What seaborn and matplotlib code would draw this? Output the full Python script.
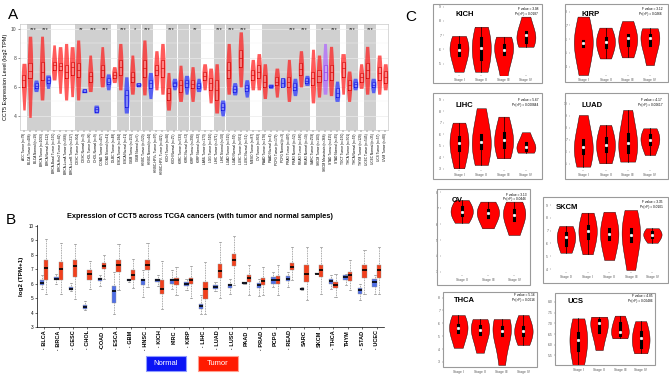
import numpy as np
import pandas as pd
import matplotlib
matplotlib.use('Agg')
import matplotlib.pyplot as plt
import matplotlib.patches as mpatches
import seaborn as sns

plt.rcParams['font.family'] = ['Liberation Sans', 'DejaVu Sans']

W, H = 669, 376

# ---------------- Panel A data (TIMER) ----------------
a_labels = [
    'ACC Tumor (n=79)', 'BLCA Tumor (n=408)', 'BLCA Normal (n=19)', 'BRCA Tumor (n=1093)',
    'BRCA Normal (n=112)', 'BRCA-Basal Tumor (n=190)', 'BRCA-Her2 Tumor (n=82)',
    'BRCA-LumA Tumor (n=568)', 'BRCA-LumB Tumor (n=217)', 'CESC Tumor (n=304)',
    'CESC Normal (n=3)', 'CHOL Tumor (n=36)', 'CHOL Normal (n=9)', 'COAD Tumor (n=457)',
    'COAD Normal (n=41)', 'DLBC Tumor (n=48)', 'ESCA Tumor (n=184)', 'ESCA Normal (n=11)',
    'GBM Tumor (n=153)', 'GBM Normal (n=5)', 'HNSC Tumor (n=520)', 'HNSC Normal (n=44)',
    'HNSC-HPV+ Tumor (n=97)', 'HNSC-HPV- Tumor (n=421)', 'KICH Tumor (n=66)',
    'KICH Normal (n=25)', 'KIRC Tumor (n=533)', 'KIRC Normal (n=72)', 'KIRP Tumor (n=290)',
    'KIRP Normal (n=32)', 'LAML Tumor (n=173)', 'LGG Tumor (n=516)', 'LIHC Tumor (n=371)',
    'LIHC Normal (n=50)', 'LUAD Tumor (n=515)', 'LUAD Normal (n=59)', 'LUSC Tumor (n=501)',
    'LUSC Normal (n=51)', 'MESO Tumor (n=87)', 'OV Tumor (n=303)', 'PAAD Tumor (n=178)',
    'PAAD Normal (n=4)', 'PCPG Tumor (n=179)', 'PCPG Normal (n=3)', 'PRAD Tumor (n=497)',
    'PRAD Normal (n=52)', 'READ Tumor (n=166)', 'READ Normal (n=10)', 'SARC Tumor (n=259)',
    'SKCM Tumor (n=103)', 'SKCM Metastasis (n=368)', 'STAD Tumor (n=415)',
    'STAD Normal (n=35)', 'TGCT Tumor (n=150)', 'THCA Tumor (n=501)', 'THCA Normal (n=59)',
    'THYM Tumor (n=120)', 'UCEC Tumor (n=545)', 'UCEC Normal (n=35)', 'UCS Tumor (n=57)',
    'UVM Tumor (n=80)']
a_lo = [4.41, 3.9, 5.68, 5.1, 5.9, 6.48, 5.56, 5.1, 5.33, 5.1, 5.6, 5.68, 4.2, 6.0, 5.8, 6.3,
        5.8, 4.2, 5.5, 6.0, 5.45, 5.2, 5.8, 5.5, 4.4, 5.8, 5.0, 5.5, 5.0, 5.68, 5.8, 4.9, 4.2,
        4.0, 5.5, 5.45, 6.0, 5.3, 5.8, 5.8, 5.2, 5.9, 5.3, 6.0, 5.0, 5.4, 6.0, 6.1, 4.9, 5.3,
        5.5, 5.4, 5.0, 5.5, 5.0, 5.8, 5.9, 5.5, 5.6, 5.5, 5.8]
a_q1 = [5.98, 6.6, 5.9, 6.48, 6.25, 7.17, 7.17, 6.6, 6.83, 6.71, 5.62, 6.37, 4.3, 6.71, 6.2,
        6.6, 6.83, 4.64, 6.37, 6.07, 6.71, 5.9, 6.83, 6.71, 5.1, 6.07, 5.68, 6.02, 5.9, 5.9,
        6.48, 5.8, 5.1, 4.41, 6.6, 5.68, 7.4, 5.75, 6.48, 6.6, 6.02, 5.98, 6.14, 6.02, 6.02,
        5.8, 6.83, 6.25, 6.14, 6.37, 6.48, 6.48, 5.33, 6.71, 5.8, 6.02, 6.37, 6.6, 5.98, 6.48,
        6.3]
a_med = [6.48, 7.13, 6.07, 7.06, 6.48, 7.52, 7.45, 7.06, 7.4, 7.17, 5.68, 6.76, 4.46, 7.17,
         6.37, 6.83, 7.4, 5.45, 6.67, 6.16, 7.29, 6.25, 7.17, 7.29, 5.56, 6.25, 6.14, 6.25,
         6.18, 6.07, 6.76, 6.25, 5.8, 4.6, 7.17, 5.84, 7.98, 5.95, 6.83, 7.06, 6.37, 6.07, 6.37,
         6.25, 6.37, 5.98, 7.22, 6.44, 6.6, 6.76, 7.06, 7.06, 5.56, 7.29, 6.14, 6.2, 6.67, 7.17,
         6.14, 6.94, 6.7]
a_q3 = [6.83, 7.63, 6.25, 7.75, 6.67, 7.75, 7.63, 7.52, 7.75, 7.63, 5.84, 7.06, 4.64, 7.52,
        6.6, 7.06, 7.86, 5.8, 7.06, 6.25, 7.86, 6.48, 7.52, 7.86, 5.91, 6.37, 6.48, 6.48, 6.48,
        6.25, 7.06, 6.6, 6.48, 4.87, 7.75, 6.07, 8.55, 6.14, 7.17, 7.52, 6.83, 6.14, 6.71, 6.6,
        6.71, 6.25, 7.63, 6.6, 7.06, 7.17, 7.52, 7.52, 5.91, 7.75, 6.48, 6.37, 6.94, 7.63, 6.37,
        7.4, 7.1]
a_hi = [7.63, 9.5, 6.48, 9.5, 6.83, 8.9, 8.78, 9.0, 8.78, 9.24, 5.9, 8.2, 4.75, 8.78, 6.9,
        7.4, 9.0, 6.7, 8.2, 6.3, 9.24, 7.0, 8.5, 9.0, 7.0, 6.6, 7.5, 6.8, 7.4, 6.6, 7.6, 7.3,
        7.6, 5.1, 9.0, 6.3, 9.8, 6.5, 7.9, 8.3, 7.6, 6.2, 7.3, 6.62, 7.9, 6.6, 8.5, 6.8, 8.6,
        8.2, 9.0, 8.8, 6.4, 8.3, 7.1, 6.6, 7.6, 8.8, 6.6, 8.2, 7.6]
a_sig = {'BLCA': '***', 'BRCA': '***', 'CESC': '**', 'CHOL': '***', 'COAD': '***',
         'ESCA': '***', 'GBM': '*', 'HNSC': '***', 'KICH': '***', 'KIRP': '**',
         'LIHC': '***', 'LUAD': '***', 'LUSC': '***', 'PRAD': '***', 'READ': '***',
         'SKCM': '*', 'STAD': '***', 'THCA': '***', 'UCEC': '***'}

# ---------------- Panel B data (GEPIA boxplots) ----------------
b_labels = ['· BLCA', '· BRCA', '· CESC', '· CHOL', '·COAD', '· ESCA', '· GBM', '· HNSC',
            '· KICH', 'KIRC', '· KIRP', '· LIHC', '· LUAD', '· LUSC', 'PAAD', '· PRAD',
            'PCPG', '· READ', 'SARC', 'SKCM', '· THCA', 'THYM', '· STAD', '· UCEC']
b_norm_lo = [5.66, 6.0, 5.5, 4.16, 5.82, 3.93, 6.12, 5.08, 5.82, 5.66, 5.54, 3.88, 5.5, 5.31,
             5.96, 5.13, 5.77, 5.77, 5.54, 6.65, 5.66, 5.89, 4.85, 5.31]
b_norm_q1 = [5.94, 6.24, 5.54, 4.27, 6.19, 4.67, 6.17, 5.89, 6.12, 6.0, 5.82, 4.27, 5.66, 5.73,
             6.0, 5.73, 6.0, 6.17, 5.59, 6.67, 6.0, 6.28, 5.27, 5.77]
b_norm_med = [6.07, 6.35, 5.66, 4.39, 6.3, 5.47, 6.24, 6.28, 6.24, 6.24, 5.96, 4.46, 5.77, 5.89,
              6.07, 5.89, 6.28, 6.35, 5.66, 6.7, 6.19, 6.47, 5.54, 6.12]
b_norm_q3 = [6.24, 6.47, 5.77, 4.5, 6.42, 5.84, 6.3, 6.35, 6.33, 6.35, 6.12, 4.62, 5.89, 6.0,
             6.12, 6.07, 6.47, 6.51, 5.73, 6.72, 6.35, 6.58, 5.73, 6.35]
b_norm_hi = [6.58, 6.65, 6.05, 4.8, 6.58, 6.81, 6.35, 6.93, 6.58, 6.93, 6.35, 5.2, 6.12, 6.35,
             6.14, 6.35, 6.81, 6.81, 5.77, 6.74, 6.58, 6.7, 6.0, 6.58]
b_tum_lo = [5.31, 5.31, 4.97, 5.66, 6.35, 5.54, 5.73, 5.77, 4.27, 5.2, 5.03, 3.88, 5.03, 5.89,
            5.2, 5.2, 5.2, 6.24, 4.9, 5.31, 5.08, 5.54, 5.31, 5.31]
b_tum_q1 = [6.28, 6.24, 6.47, 6.28, 7.04, 6.81, 6.28, 6.97, 5.27, 5.94, 5.96, 4.97, 6.42, 7.2,
            6.12, 5.94, 6.0, 6.93, 6.12, 6.47, 5.73, 6.19, 6.42, 6.42]
b_tum_med = [7.11, 7.04, 7.2, 6.65, 7.2, 7.27, 6.58, 7.27, 5.66, 6.24, 6.24, 5.66, 6.88, 7.62,
             6.4, 6.19, 6.28, 7.16, 6.7, 6.93, 5.93, 6.58, 6.93, 6.93]
b_tum_q3 = [7.62, 7.51, 7.62, 6.93, 7.44, 7.67, 6.97, 7.67, 6.24, 6.4, 6.42, 6.12, 7.39, 8.08,
            6.63, 6.42, 6.51, 7.44, 7.27, 7.27, 6.12, 6.81, 7.27, 7.27]
b_tum_hi = [9.12, 8.85, 8.78, 7.55, 7.97, 8.73, 7.74, 8.85, 7.58, 7.16, 7.2, 7.51, 8.89, 9.28,
            7.27, 7.16, 7.27, 8.55, 8.55, 8.55, 6.7, 7.62, 8.31, 8.55]

# ---------------- Panel C data (stage violins) ----------------
stages4 = ['Stage I', 'Stage II', 'Stage III', 'Stage IV']
kich_vals = [[4.42, 5.6, 5.95, 6.3, 6.94], [4.42, 5.3, 6.07, 6.77, 7.59],
             [4.12, 5.7, 5.95, 6.3, 6.89], [6.18, 6.53, 7.0, 7.23, 8.3]]
kirp_vals = [[3.4, 5.5, 5.7, 5.9, 7.64], [4.6, 5.4, 5.82, 6.1, 6.84],
             [4.68, 5.6, 6.06, 6.28, 7.32], [4.12, 5.55, 6.06, 6.3, 6.79]]
lihc_vals = [[3.06, 4.65, 5.23, 5.81, 7.03], [3.35, 4.8, 5.37, 5.96, 8.28],
             [3.93, 4.94, 5.52, 6.1, 7.55], [4.42, 4.65, 4.94, 5.23, 6.19]]
luad_vals = [[4.78, 5.9, 6.44, 7.0, 9.08], [5.06, 6.05, 6.58, 7.14, 8.25],
             [5.2, 6.0, 6.78, 7.5, 9.5], [5.75, 6.67, 7.0, 7.4, 7.97]]
ov_stages = ['Stage II', 'Stage III', 'Stage IV']
ov_vals = [[6.09, 6.58, 6.79, 7.06, 7.52], [5.74, 6.48, 6.69, 6.9, 7.42],
           [5.32, 6.27, 6.58, 6.9, 7.42]]
skcm_stages = ['Stage 0', 'Stage I', 'Stage II', 'Stage III', 'Stage IV']
skcm_vals = [[5.28, 5.92, 6.53, 6.83, 7.37], [5.16, 6.4, 6.98, 7.35, 8.41],
             [4.71, 6.33, 6.72, 7.11, 8.48], [3.93, 6.2, 6.66, 7.16, 8.62],
             [6.06, 6.5, 6.66, 6.9, 7.19]]
thca_vals = [[4.1, 5.3, 5.61, 5.87, 6.64], [3.72, 5.14, 5.48, 5.81, 6.33],
             [2.77, 5.1, 5.4, 5.74, 6.33], [4.32, 5.1, 5.4, 5.74, 6.64]]
ucs_vals = [[4.9, 5.75, 6.22, 6.53, 7.23], [5.75, 6.61, 7.0, 7.15, 7.31],
            [6.3, 6.46, 6.61, 7.0, 7.36], [5.6, 5.9, 6.3, 6.6, 7.1]]
c_fvalues = {'KICH': ('3.08', '0.0187'), 'KIRP': ('3.12', '0.0266'), 'LIHC': ('5.67', '0.000844'),
             'LUAD': ('4.17', '0.00617'), 'OV': ('3.13', '0.0446'), 'SKCM': ('3.35', '0.0101'),
             'THCA': ('5.16', '0.0016'), 'UCS': ('4.85', '0.00486')}


def rect(l, t, r, b):
    return [l / W, 1 - b / H, (r - l) / W, (b - t) / H]


fig = plt.figure(figsize=(W / 100, H / 100), dpi=100)

# ================= Panel A =================
a_rows = []
for lab, lo, q1, med, q3, hi in zip(a_labels, a_lo, a_q1, a_med, a_q3, a_hi):
    for v in (lo, q1, med, q3, hi):
        a_rows.append({'group': lab, 'value': v})
a_df = pd.DataFrame(a_rows)
a_kind = [lab.split(' ')[1] for lab in a_labels]
a_cancer = [lab.split(' ')[0] for lab in a_labels]
cloud_col = {'Tumor': '#ff1c1c', 'Normal': '#2a36ff', 'Metastasis': '#b066ff'}
box_col = {'Tumor': '#d40000', 'Normal': '#1414e0', 'Metastasis': '#8c3ce8'}

axA = fig.add_axes(rect(20, 24, 388, 130))
for c in dict.fromkeys(a_cancer):
    idx = [i for i, cc in enumerate(a_cancer) if cc == c]
    if len(idx) > 1:
        axA.axvspan(min(idx) - 0.47, max(idx) + 0.47, color='#d0d0d0', lw=0, zorder=0)
for y in [4, 6, 8, 10]:
    axA.axhline(y, color='#ebebeb', lw=0.5, zorder=0.5)
for y in [5, 7, 9]:
    axA.axhline(y, color='#f2f2f2', lw=0.3, zorder=0.5)

sns.violinplot(data=a_df, x='group', y='value', hue='group', order=a_labels,
               hue_order=a_labels, palette={l: cloud_col[k] for l, k in zip(a_labels, a_kind)},
               legend=False, cut=0, inner=None, density_norm='width', width=0.9,
               bw_adjust=1.2, linewidth=0, alpha=0.72, saturation=1, ax=axA)
sns.boxplot(data=a_df, x='group', y='value', order=a_labels, color='white', width=0.5,
            whis=0, showfliers=False, showcaps=False, linewidth=0,
            boxprops=dict(alpha=0.25), ax=axA)
sns.boxplot(data=a_df, x='group', y='value', hue='group', order=a_labels, hue_order=a_labels,
            palette={l: box_col[k] for l, k in zip(a_labels, a_kind)}, legend=False,
            fill=False, width=0.5, whis=0, showfliers=False, showcaps=False,
            linewidth=0.45, ax=axA)
for c, s in a_sig.items():
    idx = [i for i, cc in enumerate(a_cancer) if cc == c]
    axA.text(np.mean(idx), 9.93, s, ha='center', va='center', fontsize=4.2, color='#222222')

axA.set_xlim(-0.66, 60.46)
axA.set_ylim(3.03, 10.34)
axA.set_yticks([4, 6, 8, 10])
axA.set_xlabel('')
axA.set_ylabel('CCT5 Expression Level (log2 TPM)', fontsize=4, labelpad=2)
axA.tick_params(axis='y', labelsize=3.6, length=1.5, width=0.4, pad=1, colors='#444444')
axA.tick_params(axis='x', labelsize=2.3, length=1.2, width=0.3, pad=1, labelrotation=90)
for sp in axA.spines.values():
    sp.set_color('#bbbbbb')
    sp.set_linewidth(0.4)

# ================= Panel B =================
b_rows = []
for i, c in enumerate(b_labels):
    for v in (b_norm_lo[i], b_norm_q1[i], b_norm_med[i], b_norm_q3[i], b_norm_hi[i]):
        b_rows.append({'cancer': c, 'type': 'Normal', 'value': v})
    for v in (b_tum_lo[i], b_tum_q1[i], b_tum_med[i], b_tum_q3[i], b_tum_hi[i]):
        b_rows.append({'cancer': c, 'type': 'Tumor', 'value': v})
b_df = pd.DataFrame(b_rows)

axB = fig.add_axes(rect(37, 225, 384, 327))
sns.boxplot(data=b_df, x='cancer', y='value', hue='type', order=b_labels,
            hue_order=['Normal', 'Tumor'], palette={'Normal': '#4f6fe6', 'Tumor': '#f2401c'},
            whis=(0, 100), width=0.6, gap=0, showfliers=False, linewidth=0.3,
            linecolor='#999999', saturation=1,
            medianprops=dict(color='black', linewidth=1.2),
            whiskerprops=dict(color='#8c8c8c', linestyle=(0, (1, 1)), linewidth=0.6),
            capprops=dict(color='#8c8c8c', linewidth=0.5),
            legend=False, ax=axB)
axB.set_xlim(-0.49, 23.5)
axB.set_ylim(3, 10.07)
axB.set_yticks(range(3, 11))
axB.set_xlabel('')
axB.set_ylabel('log2 (TPM+1)', fontsize=4.5, fontweight='bold', labelpad=3)
axB.tick_params(axis='y', labelsize=3.3, length=1.5, width=0.4, pad=1)
axB.tick_params(axis='x', labelsize=4, length=1.5, width=0.4, pad=1, labelrotation=90)
for t in axB.get_xticklabels():
    t.set_fontweight('bold')
axB.spines['top'].set_visible(False)
axB.spines['right'].set_visible(False)
for sp in ('left', 'bottom'):
    axB.spines[sp].set_linewidth(0.5)
fig.text(200 / W, 1 - 217 / H,
         'Expression of CCT5 across TCGA cancers (with tumor and normal samples)',
         ha='center', va='center', fontsize=5.3, fontweight='bold')

for (l, t, r, b), lab, fc, ec in [((146, 356, 186, 371), 'Normal', '#0a14f5', '#8f9bff'),
                                  ((198, 356, 238, 371), 'Tumor', '#ff1a00', '#ff9f8f')]:
    fig.patches.append(mpatches.Rectangle((l / W, 1 - b / H), (r - l) / W, (b - t) / H,
                                          transform=fig.transFigure, fc=fc, ec=ec, lw=0.8))
    fig.text((l + r) / 2 / W, 1 - (t + b) / 2 / H, lab, ha='center', va='center',
             fontsize=5.5, color='white')

# ================= Panel C =================
c_panels = [
    ('KICH', stages4, kich_vals, (433, 4, 542, 83), (444, 6, 540, 75), 459, 22.3,
     (4.19, 9.05), [5, 6, 7, 8, 9]),
    ('KIRP', stages4, kirp_vals, (565, 4, 668, 82), (570, 6, 664, 75), 583.3, 22.2,
     (3.4, 8.41), [4, 5, 6, 7, 8]),
    ('LIHC', stages4, lihc_vals, (433, 93, 542, 179), (444, 97, 540, 170), 459, 22.3,
     (2.91, 9.26), [3, 4, 5, 6, 7, 8, 9]),
    ('LUAD', stages4, luad_vals, (565, 93, 668, 179), (570, 97, 664, 170), 583.3, 22.2,
     (4.5, 10.58), [5, 6, 7, 8, 9, 10]),
    ('OV', ov_stages, ov_vals, (437, 189, 530, 285), (441, 191, 528, 275), 461.7, 26.2,
     (2.8, 8.09), [3, 4, 5, 6, 7, 8]),
    ('SKCM', skcm_stages, skcm_vals, (543, 197, 668, 283), (551, 199, 665, 272), 566, 21.6,
     (3.77, 9.48), [4, 5, 6, 7, 8, 9]),
    ('THCA', stages4, thca_vals, (443, 292, 537, 367), (443, 292, 537, 367), 458.3, 21.7,
     (2.61, 8.43), [3, 4, 5, 6, 7, 8]),
    ('UCS', stages4, ucs_vals, (555, 293, 655, 365), (555, 293, 655, 365), 578.3, 20.8,
     (5.05, 8.42), [5.5, 6.0, 6.5, 7.0, 7.5, 8.0]),
]

for name, stg, vals, frame, box, p0, step, ylim, yt in c_panels:
    rows = [{'stage': s, 'value': v} for s, vv in zip(stg, vals) for v in vv]
    df = pd.DataFrame(rows)
    fig.patches.append(mpatches.Rectangle((frame[0] / W, 1 - frame[3] / H),
                                          (frame[2] - frame[0]) / W,
                                          (frame[3] - frame[1]) / H,
                                          transform=fig.transFigure, fc='none',
                                          ec='#9a9a9a', lw=0.8))
    ax = fig.add_axes(rect(*box))
    sns.violinplot(data=df, x='stage', y='value', order=stg, color='#ff0000', cut=0,
                   inner='box', density_norm='width', width=0.85, linewidth=0.3,
                   linecolor='black', saturation=1, bw_adjust=1.3,
                   inner_kws=dict(box_width=2.2, whis_width=0.5, marker='o'), ax=ax)
    ax.set_xlim((box[0] - p0) / step, (box[2] - p0) / step)
    ax.set_ylim(*ylim)
    ax.set_yticks(yt)
    ax.set_xlabel('')
    ax.set_ylabel('')
    for sp in ax.spines.values():
        sp.set_visible(False)
    ax.tick_params(labelsize=2.4, length=1, width=0.3, pad=1, colors='#555555')
    ax.text(0.12 if name != 'SKCM' else 0.04, 0.93, name, transform=ax.transAxes,
            ha='left', va='top', fontsize=5.5, fontweight='bold')
    f, p = c_fvalues[name]
    ax.text(0.98, 0.98, f'F value = {f}\nPr(>F) = {p}', transform=ax.transAxes,
            ha='right', va='top', fontsize=2.3, linespacing=1.2)

fig.text(8 / W, 1 - 15 / H, 'A', fontsize=11, ha='left', va='center')
fig.text(6 / W, 1 - 220 / H, 'B', fontsize=11, ha='left', va='center')
fig.text(405 / W, 1 - 17 / H, 'C', fontsize=11, ha='left', va='center')

fig.savefig('out.png', dpi=100)
